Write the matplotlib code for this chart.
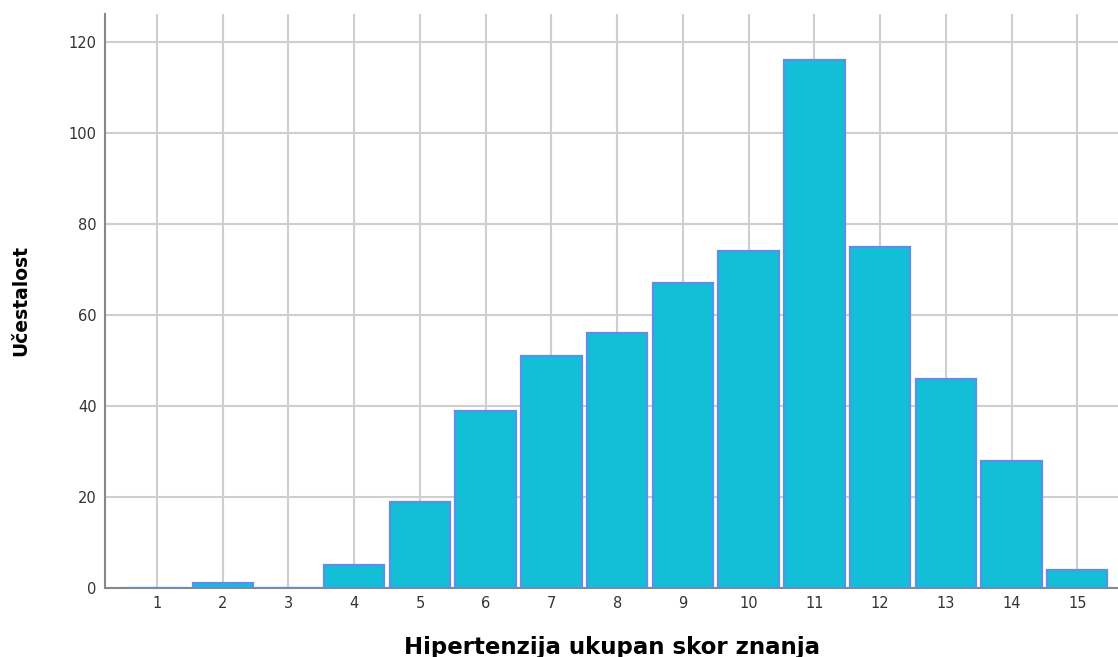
import matplotlib
matplotlib.use("Agg")
import matplotlib.pyplot as plt

# Data
scores = [1, 2, 3, 4, 5, 6, 7, 8, 9, 10, 11, 12, 13, 14, 15]
counts = [0, 1, 0, 5, 19, 39, 51, 56, 67, 74, 116, 75, 46, 28, 4]
y_ticks = [0, 20, 40, 60, 80, 100, 120]

plt.rcParams['font.family'] = ['DejaVu Sans']

fig = plt.figure(figsize=(11.18, 6.57), dpi=100)
ax = fig.add_axes([0.094, 0.105, 0.906, 0.874])

ax.bar(scores, counts, width=0.92, color='#12bfd6', edgecolor='#5a90e8',
       linewidth=1.6, zorder=3)

ax.set_xlim(0.21, 15.62)
ax.set_ylim(0, 126.2)
ax.set_xticks(scores)
ax.set_yticks(y_ticks)
ax.tick_params(length=0, labelsize=10.5, colors='#333333', pad=6)

ax.grid(True, color='#cfcfcf', linewidth=1.5, zorder=0)
for s in ['top', 'right']:
    ax.spines[s].set_visible(False)
for s in ['left', 'bottom']:
    ax.spines[s].set_color('#888888')
    ax.spines[s].set_linewidth(1.5)

ax.set_xlabel('Hipertenzija ukupan skor znanja', fontsize=16.5, fontweight='bold')
ax.xaxis.set_label_coords(0.5, -0.083)
ax.set_ylabel('Učestalost', fontsize=13.5, fontweight='bold')
ax.yaxis.set_label_coords(-0.074, 0.5)

fig.savefig('out.png', dpi=100)
